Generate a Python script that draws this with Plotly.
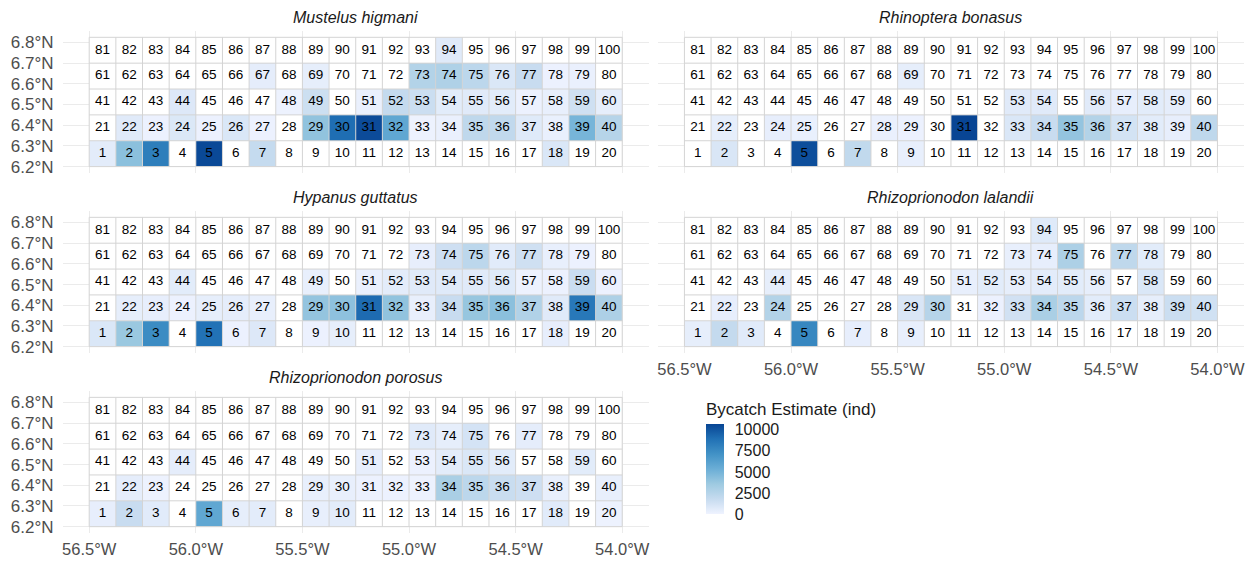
import plotly.graph_objects as go

# Bycatch estimates (individuals) per fishing cell, cells 1..100.
# Each species is 5 rows of 20 cells, row 1 = cells 1-20 (southernmost).
# None = no estimate for that cell (drawn white).
N = None

mustelus_higmani = [
    [500, 4200, 8200, N, 10500, N, 1800, N, N, N, N, N, N, N, N, N, N, 900, N, N],
    [N, 650, 150, 850, 150, 900, 150, N, 4000, 9000, 10400, 5800, 100, 200, 2100, 2000, 700, 250, 4900, 2500],
    [N, N, N, 800, N, N, N, 100, 1500, N, 200, 1850, 1550, 550, 650, 550, 150, 300, 1400, 400],
    [N, N, N, N, N, N, 450, N, 400, N, N, N, 2600, 2800, 2200, 900, 1700, 150, 200, N],
    [N, N, N, N, N, N, N, N, N, N, N, N, N, 650, N, N, N, N, N, N],
]

rhinoptera_bonasus = [
    [N, 950, N, N, 10300, N, 2000, N, 300, N, N, N, N, N, N, N, N, N, N, N],
    [N, 400, N, 350, 250, N, N, 200, 150, N, 10650, N, 900, 1700, 3900, 2600, 1200, 550, 350, 2100],
    [N, N, N, N, N, N, N, N, N, N, N, N, 650, 650, N, 650, 350, 550, 450, N],
    [N, N, N, N, N, N, N, N, 400, N, N, N, N, N, N, N, N, N, N, N],
    [N, N, N, N, N, N, N, N, N, N, N, N, N, N, N, N, N, N, N, N],
]

hypanus_guttatus = [
    [900, 3700, 7400, N, 8800, 150, 800, N, 150, 400, N, N, N, N, N, N, N, 350, N, N],
    [N, 400, 350, 150, 400, 450, 300, N, 3900, 4100, 9100, 4000, 300, 1700, 3800, 4200, 2700, 650, 8500, 2900],
    [N, N, N, 550, N, N, N, N, 300, N, 200, 500, 650, 700, 650, 700, 100, 150, 1600, 150],
    [N, N, N, N, N, N, N, N, N, N, N, N, 350, 1450, 2200, 600, 1400, 300, 150, N],
    [N, N, N, N, N, N, N, N, N, N, N, N, N, N, N, N, N, N, N, N],
]

rhizoprionodon_lalandii = [
    [400, 1850, 600, N, 7700, N, 350, N, 300, N, N, N, N, N, N, N, N, N, N, N],
    [N, 350, N, 2600, N, N, N, N, 950, 2500, N, 150, 1300, 3000, 2200, 550, 1550, 400, 1550, 1350],
    [N, N, N, 400, N, N, N, N, N, N, 300, 550, 400, 500, 550, 400, N, 900, N, N],
    [N, N, N, N, N, N, N, N, N, N, N, N, 300, 350, 2900, N, 2100, 550, N, N],
    [N, N, N, N, N, N, N, N, N, N, N, N, N, 700, N, N, N, N, N, N],
]

rhizoprionodon_porosus = [
    [350, 1700, 600, N, 5800, 400, 500, N, 300, 500, N, N, N, N, N, N, N, 600, N, 100],
    [N, 450, 100, N, N, N, N, N, 300, 300, 150, 150, 100, 3000, 2200, 1650, 1450, 300, N, 300],
    [N, N, N, 450, N, N, N, N, N, N, 350, N, 150, 500, 900, 550, N, N, 550, N],
    [N, N, N, N, N, N, N, N, N, N, N, N, 650, 400, 1150, N, 450, N, N, N],
    [N, N, N, N, N, N, N, N, N, N, N, N, N, N, N, N, N, N, N, N],
]

species = ["Mustelus higmani", "Rhinoptera bonasus", "Hypanus guttatus",
           "Rhizoprionodon lalandii", "Rhizoprionodon porosus"]
estimates = [mustelus_higmani, rhinoptera_bonasus, hypanus_guttatus,
             rhizoprionodon_lalandii, rhizoprionodon_porosus]

# Grid geometry (degrees): 20 x 5 cells of 0.125 deg, SW corner at 56.5W 6.2N
lon_west, lat_south, cell = 56.5, 6.2, 0.125
n_cols, n_rows = 20, 5

lon_ticks = [56.5, 56.0, 55.5, 55.0, 54.5, 54.0]
lon_labels = ["56.5°W", "56.0°W", "55.5°W", "55.0°W", "54.5°W", "54.0°W"]
lat_ticks = [6.2, 6.3, 6.4, 6.5, 6.6, 6.7, 6.8]
lat_labels = ["6.2°N", "6.3°N", "6.4°N", "6.5°N", "6.6°N", "6.7°N", "6.8°N"]

legend_ticks = [0, 2500, 5000, 7500, 10000]
zmax = 10650
blues = ["#EFF3FF", "#C6DBEF", "#9ECAE1", "#6BAED6", "#4292C6", "#2171B5", "#084594"]
colorscale = [[i / 6, c] for i, c in enumerate(blues)]

# cell centres (x is signed longitude, west negative)
xs = [-lon_west + cell / 2 + c * cell for c in range(n_cols)]
ys = [lat_south + cell / 2 + r * cell for r in range(n_rows)]
x_edges = [-lon_west + c * cell for c in range(n_cols + 1)]
y_edges = [lat_south + r * cell for r in range(n_rows + 1)]

W, H = 1250, 561
# panel placement in pixels
col_px = [(62.6, 649.4), (658.3, 1245.1)]
row_top = [37.5, 218.5, 399.5]
grid_h = 130
pad_y = 6.5
layout_slots = [(0, 0), (0, 1), (1, 0), (1, 1), (2, 0)]

fig = go.Figure()
layout = dict(
    width=W, height=H,
    margin=dict(l=0, r=0, t=0, b=0),
    paper_bgcolor="white", plot_bgcolor="white",
    font=dict(family="Liberation Sans, Arial, sans-serif", color="#1a1a1a"),
    showlegend=False,
)
annotations = []

for k, (name, grid) in enumerate(zip(species, estimates)):
    r, c = layout_slots[k]
    left, right = col_px[c]
    top = row_top[r] - pad_y
    bottom = row_top[r] + grid_h + pad_y
    xa = "x" if k == 0 else f"x{k + 1}"
    ya = "y" if k == 0 else f"y{k + 1}"
    xkey = "xaxis" if k == 0 else f"xaxis{k + 1}"
    ykey = "yaxis" if k == 0 else f"yaxis{k + 1}"

    show_x = k in (3, 4)
    show_y = c == 0
    layout[xkey] = dict(
        domain=[left / W, right / W], anchor=ya,
        range=[-lon_west - cell, -lon_west + n_cols * cell + cell],
        tickvals=[-v for v in lon_ticks], ticktext=lon_labels,
        showticklabels=show_x, ticks="", showline=False, zeroline=False,
        showgrid=True, gridcolor="#ebebeb", gridwidth=1,
        tickfont=dict(size=16.5, color="#4d4d4d"), fixedrange=True,
        ticklabelstandoff=4,
    )
    layout[ykey] = dict(
        domain=[1 - bottom / H, 1 - top / H], anchor=xa,
        range=[lat_south - cell / 4, lat_south + n_rows * cell + cell / 4],
        tickvals=lat_ticks, ticktext=lat_labels,
        showticklabels=show_y, ticks="", showline=False, zeroline=False,
        showgrid=True, gridcolor="#ebebeb", gridwidth=1,
        tickfont=dict(size=17, color="#4d4d4d"), fixedrange=True,
        ticklabelstandoff=8,
    )

    # white backing so cells without an estimate stay opaque
    fig.add_trace(go.Heatmap(
        x=xs, y=ys, z=[[0] * n_cols for _ in range(n_rows)],
        colorscale=[[0, "white"], [1, "white"]], showscale=False,
        hoverinfo="skip", xaxis=xa, yaxis=ya,
    ))
    fig.add_trace(go.Heatmap(
        x=xs, y=ys, z=grid, zmin=0, zmax=zmax, colorscale=colorscale,
        showscale=(k == 0), xaxis=xa, yaxis=ya,
        colorbar=dict(
            thickness=18, thicknessmode="pixels",
            len=90, lenmode="pixels",
            x=707 / W, xanchor="left", xpad=0,
            y=1 - 471.7 / H, yanchor="middle", ypad=0,
            tickvals=legend_ticks, ticktext=[str(v) for v in legend_ticks],
            ticks="outside", ticklen=8, tickcolor="white",
            tickfont=dict(size=16, color="#1a1a1a"),
            outlinewidth=0,
        ),
    ))

    # cell outlines
    bx, by = [], []
    for xe in x_edges:
        bx += [xe, xe, None]
        by += [y_edges[0], y_edges[-1], None]
    for ye in y_edges:
        bx += [x_edges[0], x_edges[-1], None]
        by += [ye, ye, None]
    fig.add_trace(go.Scatter(
        x=bx, y=by, mode="lines", line=dict(color="#d4d4d4", width=1),
        hoverinfo="skip", xaxis=xa, yaxis=ya,
    ))

    # cell numbers
    tx, ty, tt = [], [], []
    for rr in range(n_rows):
        for cc in range(n_cols):
            tx.append(xs[cc])
            ty.append(ys[rr])
            tt.append(str(rr * n_cols + cc + 1))
    fig.add_trace(go.Scatter(
        x=tx, y=ty, text=tt, mode="text",
        textfont=dict(size=13.5, color="black"),
        hoverinfo="skip", xaxis=xa, yaxis=ya,
    ))

    annotations.append(dict(
        text=f"<i>{name}</i>", xref="paper", yref="paper",
        x=(left + right) / 2 / W, y=1 - (row_top[r] - 19.5) / H,
        xanchor="center", yanchor="middle", showarrow=False,
        font=dict(size=16, color="#1a1a1a"),
    ))

annotations.append(dict(
    text="Bycatch Estimate (ind)", xref="paper", yref="paper",
    x=705 / W, y=1 - 411.5 / H, xanchor="left", yanchor="middle",
    showarrow=False, font=dict(size=17, color="#1a1a1a"),
))

layout["annotations"] = annotations
fig.update_layout(**layout)
fig.write_html("out.html")
